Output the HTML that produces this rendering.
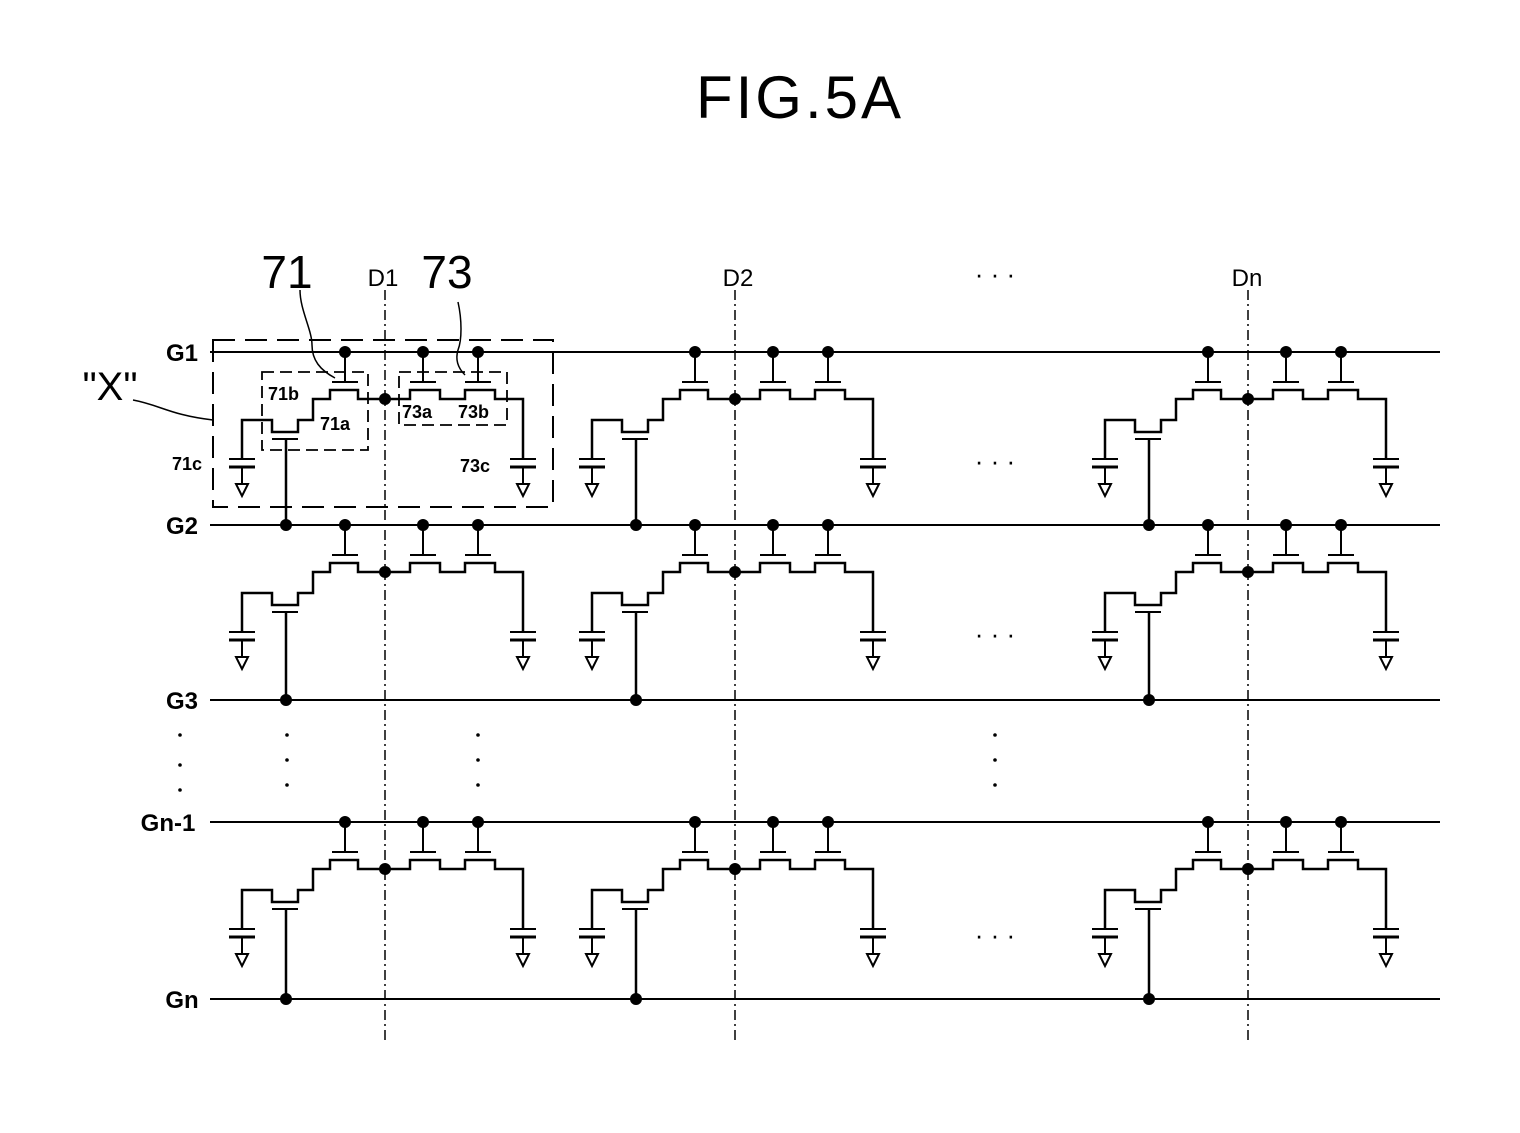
<!DOCTYPE html>
<html><head><meta charset="utf-8"><style>
html,body{margin:0;padding:0;background:#fff;}
svg{display:block;}
text{font-family:"Liberation Sans",sans-serif;fill:#000;}
</style></head><body>
<svg id="s" width="1520" height="1133" viewBox="0 0 1520 1133" xmlns="http://www.w3.org/2000/svg">
<rect width="1520" height="1133" fill="#fff"/>
<text x="800" y="118" font-size="60" text-anchor="middle" font-weight="normal" style="letter-spacing:3px">FIG.5A</text>
<text x="287" y="288" font-size="46" text-anchor="middle">71</text>
<text x="447" y="288" font-size="46" text-anchor="middle">73</text>
<text x="383" y="286" font-size="24" text-anchor="middle">D1</text>
<text x="738" y="286" font-size="24" text-anchor="middle">D2</text>
<text x="1247" y="286" font-size="24" text-anchor="middle">Dn</text>
<text x="995" y="283" font-size="26" text-anchor="middle">· · ·</text>
<text x="995" y="470" font-size="26" text-anchor="middle">· · ·</text>
<text x="995" y="643" font-size="26" text-anchor="middle">· · ·</text>
<text x="995" y="944" font-size="26" text-anchor="middle">· · ·</text>
<text x="182" y="361" font-size="24" text-anchor="middle" font-weight="bold">G1</text>
<text x="182" y="534" font-size="24" text-anchor="middle" font-weight="bold">G2</text>
<text x="182" y="709" font-size="24" text-anchor="middle" font-weight="bold">G3</text>
<text x="168" y="831" font-size="24" text-anchor="middle" font-weight="bold">Gn-1</text>
<text x="182" y="1008" font-size="24" text-anchor="middle" font-weight="bold">Gn</text>
<text x="110" y="400" font-size="40" text-anchor="middle">"X"</text>
<path d="M133 400 C160 405,170 415,213 420" fill="none" stroke="#000" stroke-width="1.5"/>
<path d="M300 290 C300 310,312 330,312 345 C312 360,320 370,335 378" fill="none" stroke="#000" stroke-width="1.5"/>
<path d="M458 302 C462 320,462 340,458 350 C455 360,458 368,465 375" fill="none" stroke="#000" stroke-width="1.5"/>
<g font-weight="bold" font-size="18">
<text x="268" y="400">71b</text><text x="320" y="430">71a</text>
<text x="402" y="418">73a</text><text x="458" y="418">73b</text>
<text x="172" y="470">71c</text><text x="460" y="472">73c</text>
</g>
<g fill="none" stroke="#000" stroke-width="2" stroke-dasharray="22,10">
<rect x="213" y="340" width="340" height="167"/>
</g>
<g fill="none" stroke="#000" stroke-width="1.8" stroke-dasharray="12,6">
<path d="M262 372 H368 V450 H262 Z"/>
<path d="M399 372 H507 V425 H399 Z"/>
</g>
<g id="g" stroke="#000" fill="none"></g>
</svg>
<script>
var g=document.getElementById('g'),NS="http://www.w3.org/2000/svg";
function el(t,a){var e=document.createElementNS(NS,t);for(var k in a)e.setAttribute(k,a[k]);g.appendChild(e);return e;}
function ln(x1,y1,x2,y2,w,da){var a={x1:x1,y1:y1,x2:x2,y2:y2,'stroke-width':w||2};if(da)a['stroke-dasharray']=da;el('line',a);}
function dot(x,y){el('circle',{cx:x,cy:y,r:6,fill:'#000','stroke-width':0});}
var G=[352,525,700,822,999];
G.forEach(function(y){ln(210,y,1440,y,2);});
var D=[385,735,1248];
D.forEach(function(x){ln(x,290,x,1040,1.5,'10,4,2,4');});
function cell(d,y0,yn){
 [-40,38,93].forEach(function(o){dot(d+o,y0);ln(d+o,y0,d+o,y0+30,2);ln(d+o-13,y0+30,d+o+13,y0+30,2);});
 var pts=[[-143,107],[-143,68],[-113,68],[-113,80],[-87,80],[-87,68],[-72,68],[-72,47],[-55,47],[-55,38],[-27,38],[-27,47],[25,47],[25,38],[55,38],[55,47],[80,47],[80,38],[110,38],[110,47],[138,47],[138,107]];
 el('polyline',{points:pts.map(function(p){return (d+p[0])+','+(y0+p[1]);}).join(' '),'stroke-width':2.5});
 ln(d-113,y0+87,d-87,y0+87,2);ln(d-99,y0+87,d-99,yn,2.5);dot(d-99,yn);
 dot(d,y0+47);
 [-143,138].forEach(function(o){var x=d+o;ln(x-13,y0+107,x+13,y0+107,2);ln(x-13,y0+115,x+13,y0+115,3);ln(x,y0+115,x,y0+132,2);
  el('polygon',{points:(x-6)+','+(y0+132)+' '+(x+6)+','+(y0+132)+' '+x+','+(y0+144),'stroke-width':2});});
}
D.forEach(function(d){cell(d,352,525);cell(d,525,700);cell(d,822,999);});
[[180,735],[180,765],[180,790],[287,735],[287,760],[287,785],[478,735],[478,760],[478,785],[995,735],[995,760],[995,785]].forEach(function(p){el('circle',{cx:p[0],cy:p[1],r:1.8,fill:'#000','stroke-width':0});});
</script>
</body></html>
